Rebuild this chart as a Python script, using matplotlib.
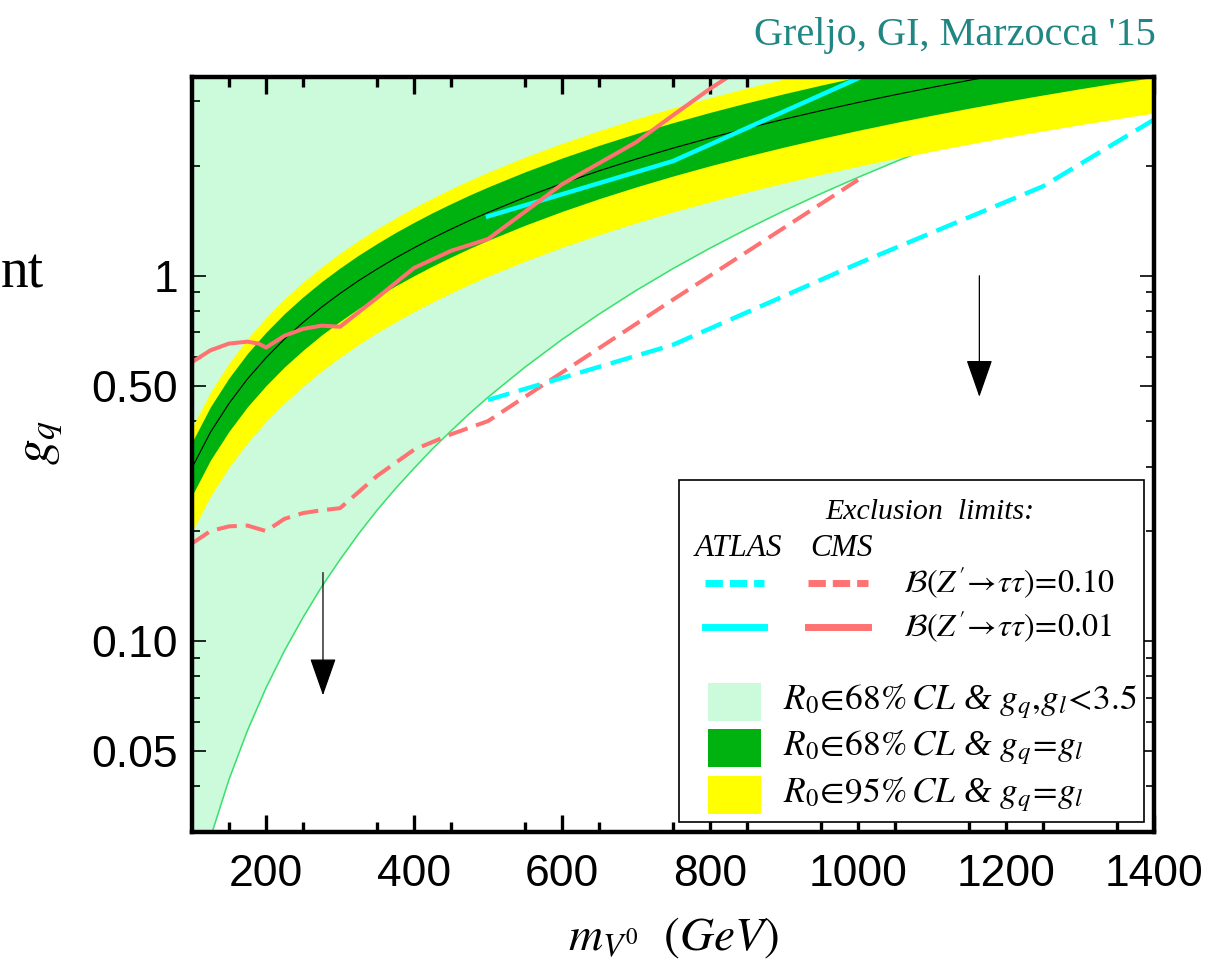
import numpy as np
import matplotlib
matplotlib.use("Agg")
import matplotlib.pyplot as plt
from matplotlib.ticker import FixedLocator, FixedFormatter, NullFormatter
from matplotlib.lines import Line2D
from matplotlib.patches import Rectangle

plt.rcParams['mathtext.fontset'] = 'stix'

# mass grid (GeV) for the fit bands
m_band = [100, 125, 150, 175, 200, 225, 250, 275, 300, 325, 350, 375, 400, 425,
          450, 475, 500, 550, 600, 650, 700, 750, 800, 850, 900, 950, 1000, 1050,
          1100, 1150, 1200, 1250, 1300, 1350, 1400]

# central line g_q = g_l
g_center = [0.298, 0.373, 0.447, 0.522, 0.596, 0.671, 0.745, 0.820, 0.894, 0.969,
            1.043, 1.118, 1.192, 1.267, 1.341, 1.416, 1.49, 1.639, 1.788, 1.937,
            2.086, 2.235, 2.384, 2.533, 2.682, 2.831, 2.98, 3.129, 3.278, 3.427,
            3.576, 3.725, 3.874, 4.023, 4.172]
# 68% CL band
g68_hi = [0.35, 0.438, 0.525, 0.613, 0.70, 0.788, 0.875, 0.963, 1.05, 1.138,
          1.225, 1.313, 1.40, 1.488, 1.575, 1.663, 1.75, 1.925, 2.10, 2.275,
          2.45, 2.625, 2.80, 2.975, 3.15, 3.325, 3.50, 3.675, 3.85, 4.025,
          4.2, 4.375, 4.55, 4.725, 4.9]
g68_lo = [0.25, 0.313, 0.375, 0.438, 0.50, 0.563, 0.625, 0.688, 0.75, 0.813,
          0.875, 0.938, 1.0, 1.063, 1.125, 1.188, 1.25, 1.375, 1.50, 1.625,
          1.75, 1.875, 2.0, 2.125, 2.25, 2.375, 2.50, 2.625, 2.75, 2.875,
          3.0, 3.125, 3.25, 3.375, 3.49]
# 95% CL band
g95_hi = [0.384, 0.48, 0.576, 0.672, 0.768, 0.864, 0.96, 1.056, 1.152, 1.248,
          1.344, 1.44, 1.536, 1.632, 1.728, 1.824, 1.92, 2.112, 2.304, 2.496,
          2.688, 2.88, 3.072, 3.264, 3.456, 3.648, 3.84, 4.032, 4.224, 4.416,
          4.608, 4.8, 4.992, 5.184, 5.376]
g95_lo = [0.199, 0.249, 0.299, 0.349, 0.399, 0.448, 0.498, 0.548, 0.598, 0.648,
          0.698, 0.747, 0.797, 0.847, 0.897, 0.947, 0.997, 1.096, 1.196, 1.295,
          1.395, 1.495, 1.594, 1.694, 1.794, 1.893, 1.993, 2.093, 2.192, 2.292,
          2.392, 2.491, 2.591, 2.69, 2.79]
# lower edge of the 68% CL region with g_q, g_l < 3.5
g_free_lo = [0.0186, 0.029, 0.0418, 0.0569, 0.0744, 0.0941, 0.116, 0.1406, 0.167,
             0.1964, 0.228, 0.2614, 0.297, 0.3358, 0.376, 0.4194, 0.465, 0.562,
             0.669, 0.785, 0.911, 1.046, 1.19, 1.343, 1.506, 1.678, 1.859, 2.05,
             2.249, 2.458, 2.677, 2.905, 3.142, 3.388, 3.644]
g_max = 3.5

# CMS limits
cms_m_01 = [100, 125, 150, 175, 190, 200, 225, 250, 275, 300, 350, 400, 450, 500,
            600, 700, 750, 800, 850]
cms_g_01 = [0.58, 0.625, 0.652, 0.66, 0.652, 0.636, 0.685, 0.715, 0.73, 0.725,
            0.87, 1.05, 1.17, 1.26, 1.78, 2.32, 2.75, 3.25, 3.78]
cms_m_10 = [100, 125, 150, 175, 200, 225, 250, 275, 300, 350, 400, 450, 500, 750, 1000]
cms_g_10 = [0.185, 0.200, 0.206, 0.207, 0.200, 0.216, 0.224, 0.228, 0.231, 0.283,
            0.334, 0.368, 0.40, 0.86, 1.83]

# ATLAS limits
atlas_m_01 = [500, 750, 1000]
atlas_g_01 = [1.454, 2.06, 3.47]
atlas_m_10 = [500, 750, 1000, 1250, 1400]
atlas_g_10 = [0.457, 0.647, 1.08, 1.757, 2.675]

# downward arrows (mass, tail, tip)
arrow_m = [277, 1164]
arrow_tail = [0.154, 1.0]
arrow_tip = [0.071, 0.466]

c_light = '#ccfbdc'
c_dark = '#00b20f'
c_yellow = '#ffff00'
c_cyan = '#00ffff'
c_pink = '#ff7272'

fig = plt.figure(figsize=(12.13, 9.67), dpi=100)
ax = fig.add_axes([192/1213, 1 - 832/967, 962/1213, 755/967])
ax.set_yscale('log')
ax.set_xlim(100, 1400)
ax.set_ylim(0.03, g_max)

ax.fill_between(m_band, g_free_lo, g_max, color=c_light, lw=0, zorder=1)
ax.plot(m_band, g_free_lo, color='#3be06c', lw=1.1, zorder=2)
ax.fill_between(m_band, g95_lo, g95_hi, color=c_yellow, lw=0, zorder=3)
ax.fill_between(m_band, g68_lo, g68_hi, color=c_dark, lw=0, zorder=4)
ax.plot(m_band, g_center, color='black', lw=0.8, zorder=5)

dash = (5, 2.2)
ax.plot(cms_m_10, cms_g_10, color=c_pink, lw=2.9, dashes=dash, zorder=6)
ax.plot(atlas_m_10, atlas_g_10, color=c_cyan, lw=3.2, dashes=dash, zorder=6)
ax.plot(atlas_m_01, atlas_g_01, color=c_cyan, lw=3.2, zorder=6)
ax.plot(cms_m_01, cms_g_01, color=c_pink, lw=2.9, zorder=7)

for m, g0, g1 in zip(arrow_m, arrow_tail, arrow_tip):
    ax.annotate('', xy=(m, g1), xytext=(m, g0), zorder=8,
                arrowprops=dict(arrowstyle='-|>,head_length=1.2,head_width=0.42',
                                color='black', lw=0.9, mutation_scale=20,
                                shrinkA=0, shrinkB=0))

# ticks
ax.xaxis.set_major_locator(FixedLocator([200, 400, 600, 800, 1000, 1200, 1400]))
ax.xaxis.set_minor_locator(FixedLocator(np.arange(150, 1400, 100)))
ax.yaxis.set_major_locator(FixedLocator([0.05, 0.1, 0.5, 1]))
ax.yaxis.set_major_formatter(FixedFormatter(['0.05', '0.10', '0.50', '1']))
ax.yaxis.set_minor_locator(FixedLocator([0.03, 0.04, 0.06, 0.07, 0.08, 0.09, 0.2,
                                         0.3, 0.4, 0.6, 0.7, 0.8, 0.9, 2, 3]))
ax.yaxis.set_minor_formatter(NullFormatter())
ax.tick_params(axis='both', which='both', direction='in', top=True, right=True,
               labelsize=32)
ax.tick_params(axis='x', pad=16)
ax.tick_params(axis='y', pad=10)
for lab in ax.get_xticklabels() + ax.get_yticklabels():
    lab.set_family('Liberation Sans')
ax.tick_params(axis='x', which='major', length=12, width=2.4)
ax.tick_params(axis='x', which='minor', length=7, width=2.4)
ax.tick_params(axis='y', which='major', length=10, width=1.2)
ax.tick_params(axis='y', which='minor', length=6, width=1.2)
for sp in ax.spines.values():
    sp.set_linewidth(3.2)
    sp.set_zorder(10)

ax.set_xlabel(r'$m_{V^{0}}\ \ (GeV)$', fontsize=34, labelpad=14)
fig.text(40/1213, 1 - 442/967, r'$g_q$', fontsize=37, rotation=90,
         ha='center', va='center')
fig.text(1156/1213, 1 - 35/967, "Greljo, GI, Marzocca '15", color='#1f8683',
         family='Liberation Serif', fontsize=29, ha='right', va='center')
fig.text(1/1213, 1 - 274/967, 'nt', family='Liberation Serif', fontsize=40,
         ha='left', va='center')

# legend panel
def ax_pt(px, py):
    return (px - 192) / 962, (832 - py) / 755

x0, y0 = ax_pt(679, 822)
x1, y1 = ax_pt(1144, 480)
ax.add_patch(Rectangle((x0, y0), x1 - x0, y1 - y0, transform=ax.transAxes,
                       facecolor='white', edgecolor='black', lw=1.2, zorder=11))
serif_it = dict(family='Liberation Serif', style='italic', transform=ax.transAxes,
                zorder=12)
ax.text(*ax_pt(930, 512), 'Exclusion  limits:', fontsize=21.5, ha='center',
        va='center', **serif_it)
ax.text(*ax_pt(738, 549), 'ATLAS', fontsize=22.5, ha='center', va='center', **serif_it)
ax.text(*ax_pt(842, 549), 'CMS', fontsize=22.5, ha='center', va='center', **serif_it)

for py, ls, txt in [(583, dash, r'$\mathcal{B}(Z^{\prime}\!\rightarrow\!\tau\tau)\!=\!\mathit{0.10}$'),
                    (627, None, r'$\mathcal{B}(Z^{\prime}\!\rightarrow\!\tau\tau)\!=\!\mathit{0.01}$')]:
    for (xa, xb), col in [((705, 764), c_cyan), ((808, 868), c_pink)]:
        pa, pb = ax_pt(xa, py), ax_pt(xb, py)
        ln = Line2D([pa[0], pb[0]], [pa[1], pb[1]], color=col, lw=5,
                    transform=ax.transAxes, zorder=12)
        if ls is not None:
            ln.set_dashes((2.5, 1.0))
        ax.add_line(ln)
    ax.text(*ax_pt(903, py), txt, fontsize=23, ha='left', va='center',
            transform=ax.transAxes, zorder=12)

patch_rows = [(702, c_light, r'$R_{\mathit{0}}\!\in\!\mathit{68}\%\,CL$ & $g_q,\!g_l\!<\!\mathit{3.5}$'),
              (748, c_dark, r'$R_{\mathit{0}}\!\in\!\mathit{68}\%\,CL$ & $g_q\!=\!g_l$'),
              (795, c_yellow, r'$R_{\mathit{0}}\!\in\!\mathit{95}\%\,CL$ & $g_q\!=\!g_l$')]
for py, col, txt in patch_rows:
    pa = ax_pt(708, py + 19)
    pb = ax_pt(761, py - 19)
    ax.add_patch(Rectangle(pa, pb[0] - pa[0], pb[1] - pa[1], transform=ax.transAxes,
                           facecolor=col, edgecolor='none', zorder=12))
    ax.text(*ax_pt(783, py), txt, fontsize=25.5, ha='left', va='center',
            family='Liberation Serif', style='italic',
            transform=ax.transAxes, zorder=12)

fig.savefig('out.png', dpi=100)
